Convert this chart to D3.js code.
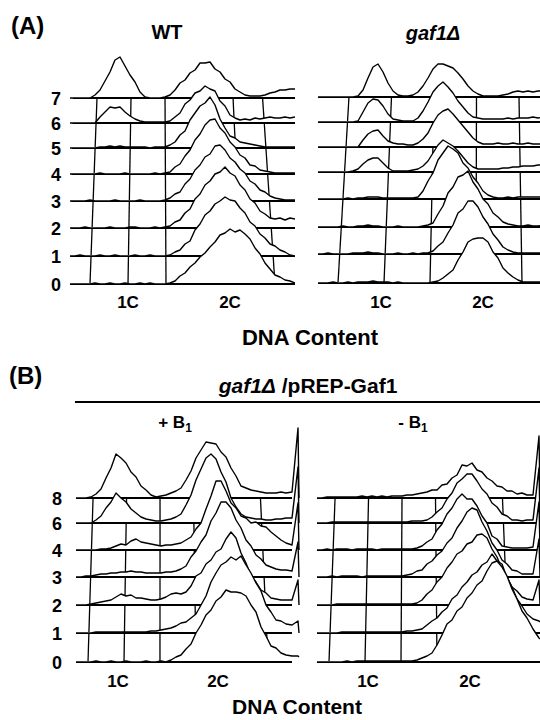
<!DOCTYPE html>
<html lang="en">
<head>
<meta charset="utf-8">
<title>DNA content histograms</title>
<script src="https://cdn.jsdelivr.net/npm/d3@7"></script>
<style>
  body { margin: 0; background: #fff; }
  text { font-family: Arial, "Liberation Sans", sans-serif; font-weight: bold; fill: #000; }
</style>
</head>
<body>
<div id="chart"></div>
<script>
// ---- data (counts per channel, one array per time point, bottom row first) ----
var chanA = [0,5,10,15,20,25,30,35,40,45,50,55,60,65,70,75,80,85,90,95,100,105,110,115,120,125,130,135,140,145,150,155,160,165,170,175,180,185,190,195,200,205,210,215,220,225];
var chanB = [0,5,10,15,20,25,30,35,40,45,50,55,60,65,70,75,80,85,90,95,100,105,110,115,120,125,130,135,140,145,150,155,160,165,170,175,180,185,190,195,200,205,210,216,222,223];

var rowLabelsA = ["0","1","2","3","4","5","6","7"];
var rowLabelsB = ["0","1","2","3","4","6","8"];
var ploidyLabels = ["1C","2C"];

var wtCounts = [
  [0,0,0,0,0,1,0,0,1,0,0,1,0,0,1,0,1,0,0, 0,1,3,8,11,17,21,27,31,37,42,49,51,55,52,54,50,45,36,30,21,15,9,7,4,3,1],
  [0,0,1,0,0,0,1,0,0,1,0,0,0,1,0,0,1,0,0, 0,1,4,6,12,15,26,32,41,45,52,55,59,56,55,48,43,34,30,22,18,12,10,6,4,1,0],
  [0,0,0,1,0,0,0,0,1,0,0,0,1,1,0,0,0,1,0, 1,2,6,8,15,19,29,34,43,47,54,56,61,55,52,43,38,29,25,17,14,10,9,10,8,10,9],
  [0,0,0,0,1,0,0,0,0,1,0,0,0,0,1,0,0,0,0, 1,3,7,9,17,22,31,36,44,47,55,56,51,43,39,32,28,20,17,11,9,5,3,2,1,1,1],
  [0,0,0,0,0,0,1,0,0,0,0,1,0,0,0,0,0,1,0, 1,2,7,10,18,24,34,40,49,54,55,46,41,32,27,19,16,9,8,4,3,2,1,1,1,1,1],
  [0,0,0,0,0,0,1,1,2,1,2,1,1,1,1,1,0,1,1, 1,3,6,13,17,28,35,42,45,51,43,29,20,12,10,6,5,4,3,2,1,1,1,1,1,1,1],
  [0,0,0,0,0,0,6,11,16,15,16,11,7,4,2,1,1,1,1, 1,2,6,10,19,23,30,32,37,34,32,22,17,8,5,3,4,3,5,4,5,6,5,5,6,5,6],
  [0,0,0,0,0,3,8,17,26,38,41,32,23,16,6,1,0,0,0, 1,3,8,15,18,25,28,35,35,36,29,26,19,16,9,6,3,2,2,2,3,5,6,8,8,9,9]
];

var gafCounts = [
  [0,0,0,1,0,0,1,0,1,1,1,2,1,1,1,0,1,0,0,0, 0,0,0,1,2,5,9,13,23,31,41,44,45,45,41,31,25,15,10,6,3,1,1,1,1,1],
  [0,0,1,0,0,0,0,1,1,1,2,1,1,0,0,0,1,0,0,1, 0,1,1,3,8,12,21,29,41,45,53,53,47,37,30,20,14,7,4,2,1,1,1,1,1,1],
  [0,0,0,0,0,1,0,0,1,1,2,1,1,0,0,0,1,0,0,0, 0,1,2,4,13,21,34,40,50,52,56,45,38,28,23,14,10,5,3,2,1,1,2,1,1,2],
  [0,0,0,0,0,0,1,0,1,1,2,2,2,1,1,1,1,1,1,1, 2,8,18,26,39,46,53,50,46,36,31,22,16,8,4,2,1,1,2,1,2,2,2,2,2,2],
  [0,0,0,0,0,0,0,1,3,8,12,14,14,9,4,1,1,1,1,2, 3,6,11,19,27,32,29,26,21,15,9,5,3,3,3,3,3,4,4,5,5,6,6,6,7,7],
  [0,0,0,0,0,0,0,0,0,7,13,16,17,11,6,4,3,3,2,2, 4,8,14,24,32,36,38,33,27,21,15,9,5,3,3,3,4,3,3,4,3,3,4,3,3,3],
  [0,0,0,0,0,0,0,0,1,10,19,23,22,16,8,3,2,1,1,1, 4,11,20,30,36,40,35,29,21,15,9,5,4,3,3,3,3,3,4,3,4,4,4,5,4,5],
  [0,0,0,0,0,0,0,0,1,7,19,30,33,25,14,6,2,1,1,2, 5,11,19,28,33,33,31,29,24,18,11,6,3,1,1,1,1,2,3,5,6,5,6,5,6,6]
];

var plusB1Counts = [
  [0,0,0,0,1,0,0,1,0,0,1,0,0,0,1,0,0,1, 0,2,5,7,13,18,29,37,47,52,61,65,72,70,70,69,66,57,50,35,26,16,14,9,7, 6,6,5],
  [0,0,0,0,1,1,1,1,1,1,1,1,1,1,1,2,2,3,4,5,7,10,11,15,19,28,37,51,60,68,71,76,73,77,68,60,50,42,28,21,13,12,9, 8,12,0],
  [0,0,0,1,2,3,4,5,8,11,9,10,7,7,6,5,5,6,8,11,12,11,13,19,29,32,41,45,53,56,66,73,67,52,42,29,23,15,12,7,6,5,5, 5,25,0],
  [0,0,1,1,2,3,3,4,4,5,5,6,5,5,4,4,4,4,5,5,6,8,11,20,26,35,42,56,64,75,75,69,57,49,37,31,22,18,12,10,8,7,7, 6,35,0],
  [0,0,0,0,0,1,1,2,4,6,5,9,11,8,7,6,5,4,5,5,6,7,10,13,21,27,41,54,69,69,59,47,42,34,32,27,28,24,23,18,14,10,7, 5,47,0],
  [0,0,0,0,3,7,15,21,30,25,21,14,10,6,4,3,2,2,3,4,6,9,18,28,43,54,65,69,64,51,41,25,16,9,6,5,4,4,3,3,4,4,5, 5,56,0],
  [0,0,0,1,4,9,20,30,44,40,35,26,21,12,8,3,1,2,3,5,7,10,18,27,40,48,56,55,54,46,41,30,22,12,10,8,7,6,5,5,5,6,5, 6,70,0]
];

var minusB1Counts = [
  [0,0,0,0,0,0,1,0,1,1,1,1,1,1,1,1,1,1, 1,1,2,4,6,9,17,27,38,42,51,55,64,69,77,81,91,99,101,95,86,73,63,51,44, 33,24,23],
  [0,0,0,0,0,1,1,1,1,1,1,1,1,1,1,1,1,1,2, 2,3,4,8,12,15,21,25,34,38,46,51,58,61,68,71,79,72,69,55,46,34,27,19, 14,12,11],
  [0,0,0,0,1,1,1,1,1,1,1,1,1,1,1,1,1,1,1, 1,2,5,11,15,23,28,37,43,51,54,61,63,70,71,67,56,48,36,28,18,14,8,6, 5,25,0],
  [0,0,0,1,0,1,1,1,1,0,1,1,1,1,1,1,1,1, 2,3,6,7,13,16,22,26,34,39,49,56,65,69,67,55,46,34,27,17,13,7,6,3,3, 3,38,0],
  [0,0,1,0,1,1,1,0,1,1,1,1,0,1,1,1,1,1,1, 1,2,4,8,11,20,26,36,42,51,56,51,51,44,34,27,14,11,4,3,2,2,2,2, 3,48,0],
  [0,0,0,1,1,1,1,1,1,1,1,1,1,1,1,1,1,1,1, 2,2,2,3,6,11,15,24,30,40,44,49,49,42,34,29,20,16,9,7,3,3,2,3, 3,55,0],
  [0,0,1,1,1,1,1,1,1,2,1,2,1,2,1,2,2,2,3, 3,4,5,6,8,8,13,14,20,23,33,32,35,28,26,20,17,12,11,7,7,4,5,3, 3,62,0]
];

// ---- layout ----
var panels = [
  { chan: chanA, counts: wtCounts, rowY: [284,256,228,201,174,148,123,98],
    left: 70, lineEnd: 295, clipL: 62, clipR: 295, startShift: 3,
    grid: [20,58,96,134,172,205], backD: 9.1, backS: 0.895,
    rowLabels: rowLabelsA, labelX: 61, ploidyAt: [58,160], ploidyY: 308 },
  { chan: chanA, counts: gafCounts, rowY: [283,254,227,199,172,147,122,97],
    left: 318, lineEnd: 540, clipL: 312, clipR: 540, startShift: 0,
    grid: [20,66,112,158,204], backD: 12.5, backS: 0.924,
    rowLabels: null, ploidyAt: [63,165], ploidyY: 308 },
  { chan: chanB, counts: plusB1Counts, rowY: [662,633,605,577,550,523,498],
    left: 76, lineEnd: 292, clipL: 68, clipR: 300, startShift: 0,
    grid: [12,48,84,120,156,192], backD: 5.9, backS: 0.93,
    rowLabels: rowLabelsB, labelX: 62, ploidyAt: [42,142], ploidyY: 687 },
  { chan: chanB, counts: minusB1Counts, rowY: [662,633,605,577,550,523,498],
    left: 317, lineEnd: 540, clipL: 306, clipR: 540, startShift: 0,
    grid: [12,48,84,120,156,192], backD: 6.9, backS: 0.93,
    rowLabels: null, ploidyAt: [51,153], ploidyY: 687 }
];

var svg = d3.select("#chart").append("svg")
    .attr("width", 540)
    .attr("height", 720)
    .style("background", "#fff");

var h = d3.scaleLinear().domain([0, 100]).range([0, 100]);

panels.forEach(function(p, pi) {
  var n = p.counts.length;
  var x = d3.scaleLinear().domain([0, 100]).range([p.left, p.left + 100]);
  var xBack = d3.scaleLinear().domain([0, 100]).range([p.left + p.backD, p.left + p.backD + 100 * p.backS]);
  var y = d3.scaleLinear().domain(d3.range(n)).range(p.rowY);

  svg.append("clipPath").attr("id", "clip" + pi)
    .append("rect")
    .attr("x", p.clipL).attr("y", 0)
    .attr("width", p.clipR - p.clipL).attr("height", 720);

  var g = svg.append("g").attr("clip-path", "url(#clip" + pi + ")");

  // floor grid (slanted verticals)
  g.selectAll("line.v").data(p.grid).enter().append("line")
    .attr("x1", function(d) { return x(d); })
    .attr("y1", y(0))
    .attr("x2", function(d) { return xBack(d); })
    .attr("y2", y(n - 1))
    .attr("stroke", "#000").attr("stroke-width", 1.3);

  var area = d3.area()
    .x(function(d, j) { return x(p.chan[j]); });
  var line = d3.line()
    .x(function(d, j) { return x(p.chan[j]); });

  // back rows first, front rows last
  for (var i = n - 1; i >= 0; i--) {
    var base = y(i);
    g.append("line")
      .attr("x1", p.left + p.startShift * i / (n - 1)).attr("x2", p.lineEnd)
      .attr("y1", base).attr("y2", base)
      .attr("stroke", "#000").attr("stroke-width", 1.9);

    area.y0(base - 0.9).y1(function(d) { return base - h(d); });
    line.y(function(d) { return base - h(d); });

    g.append("path").datum(p.counts[i])
      .attr("d", area)
      .attr("fill", "#fff");
    g.append("path").datum(p.counts[i])
      .attr("d", line)
      .attr("fill", "none")
      .attr("stroke", "#000")
      .attr("stroke-width", 1.4)
      .attr("stroke-linejoin", "round");
  }

  if (p.rowLabels) {
    svg.selectAll(null).data(p.rowLabels).enter().append("text")
      .attr("x", p.labelX)
      .attr("y", function(d, i) { return y(i) + 7; })
      .attr("text-anchor", "end")
      .style("font-size", "18px")
      .text(function(d) { return d; });
  }

  svg.selectAll(null).data(ploidyLabels).enter().append("text")
    .attr("x", function(d, i) { return x(p.ploidyAt[i]); })
    .attr("y", p.ploidyY)
    .attr("text-anchor", "middle")
    .style("font-size", "17px")
    .text(function(d) { return d; });
});

// ---- titles ----
function label(txt, xx, yy, size, anchor) {
  return svg.append("text").attr("x", xx).attr("y", yy)
    .attr("text-anchor", anchor || "middle")
    .style("font-size", size + "px").text(txt);
}
label("(A)", 11, 34, 24, "start");
label("(B)", 9, 384, 24, "start");
label("WT", 167, 39, 20);
label("DNA Content", 310, 345, 22);
label("DNA Content", 297, 714, 21);

var t1 = svg.append("text").attr("x", 433).attr("y", 40)
  .attr("text-anchor", "middle").style("font-size", "20px");
t1.append("tspan").style("font-style", "italic").text("gaf1\u0394");

var t2 = svg.append("text").attr("x", 308).attr("y", 393)
  .attr("text-anchor", "middle").style("font-size", "21px");
t2.append("tspan").style("font-style", "italic").text("gaf1\u0394");
t2.append("tspan").text(" /pREP-Gaf1");

svg.append("line")
  .attr("x1", 75).attr("x2", 540).attr("y1", 402).attr("y2", 402)
  .attr("stroke", "#000").attr("stroke-width", 2);

var b1 = svg.append("text").attr("x", 175).attr("y", 428)
  .attr("text-anchor", "middle").style("font-size", "17px");
b1.append("tspan").text("+ B");
b1.append("tspan").attr("dy", 4).style("font-size", "12px").text("1");

var b2 = svg.append("text").attr("x", 413).attr("y", 428)
  .attr("text-anchor", "middle").style("font-size", "17px");
b2.append("tspan").text("- B");
b2.append("tspan").attr("dy", 4).style("font-size", "12px").text("1");
</script>
</body>
</html>
